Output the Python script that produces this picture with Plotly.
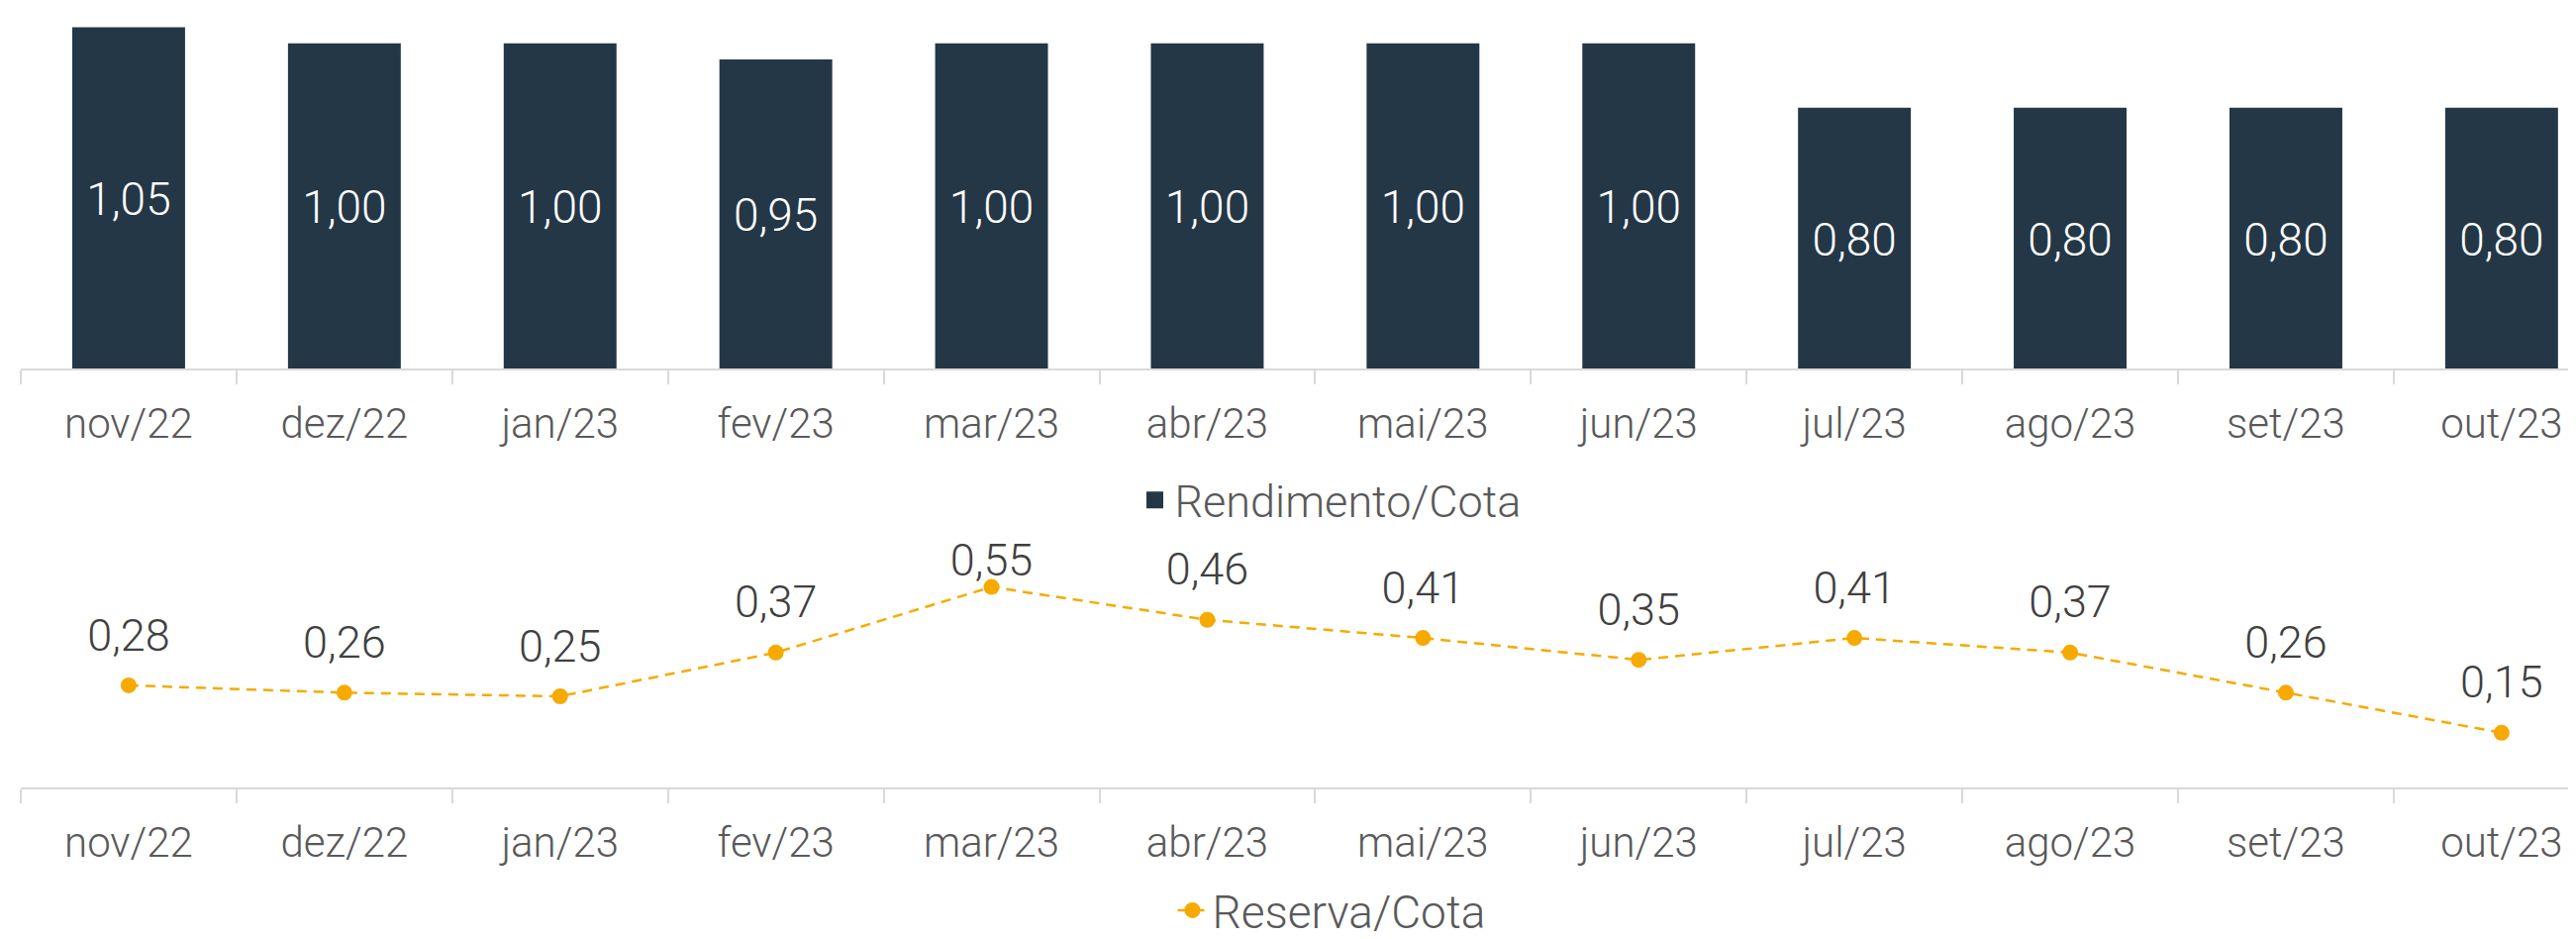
import plotly.graph_objects as go

# ---- data ----
months = ["nov/22", "dez/22", "jan/23", "fev/23", "mar/23", "abr/23",
          "mai/23", "jun/23", "jul/23", "ago/23", "set/23", "out/23"]
rendimento = [1.05, 1.00, 1.00, 0.95, 1.00, 1.00, 1.00, 1.00, 0.80, 0.80, 0.80, 0.80]
reserva = [0.28, 0.26, 0.25, 0.37, 0.55, 0.46, 0.41, 0.35, 0.41, 0.37, 0.26, 0.15]

# ---- style ----
# the page body has an 8px margin, so the figure is drawn 8px in from the window
OFF = 8
W, H = 2602 - OFF, 948 - OFF
L = 21 - OFF
PW = W - L
FONT = "Roboto Light, Roboto"
BAR_COLOR = "#243746"
LINE_COLOR = "#F6AA00"
AXIS_COLOR = "#D9D9D9"
TICK_COLOR = "#595959"
LABEL_COLOR = "#404040"

CAT_PX = 217.9
xr = [-0.5, -0.5 + PW / CAT_PX]

# label offsets (invisible marker sizes steer the label gap above points)
label_gap = [37, 37, 37, 37, 0, 37, 37, 37, 37, 37, 37, 37]


def py(y_window):
    """window pixel row -> paper fraction"""
    return 1 - (y_window - OFF) / H


def px(x_window):
    """window pixel column -> paper fraction"""
    return (x_window - OFF - L) / PW


fig = go.Figure()

fig.add_trace(go.Bar(
    x=months, y=rendimento, name="Rendimento/Cota",
    marker=dict(color=BAR_COLOR, line=dict(color=BAR_COLOR, width=5)),
    texttemplate="%{y:.2f}", textposition="inside", insidetextanchor="middle",
    textfont=dict(family=FONT, size=46, color="white", weight=300),
    xaxis="x", yaxis="y", legend="legend",
))

fig.add_trace(go.Scatter(
    x=months, y=reserva, name="Reserva/Cota", mode="lines+markers",
    line=dict(color=LINE_COLOR, width=2.5, dash="10px,7px"),
    marker=dict(color=LINE_COLOR, size=16),
    xaxis="x2", yaxis="y2", legend="legend2",
))

fig.add_trace(go.Scatter(
    x=months, y=reserva, mode="markers+text", showlegend=False,
    marker=dict(size=label_gap, opacity=0),
    texttemplate="%{y:.2f}", textposition="top center",
    textfont=dict(family=FONT, size=45, color=LABEL_COLOR, weight=300),
    hoverinfo="skip", cliponaxis=False, xaxis="x2", yaxis="y2",
))

xcommon = dict(
    type="category", range=xr, tickson="boundaries", ticks="outside",
    ticklen=14, tickwidth=2, tickcolor=AXIS_COLOR, showline=True,
    linecolor=AXIS_COLOR, linewidth=2, showgrid=False, zeroline=False,
    tickfont=dict(family=FONT, size=42, color=TICK_COLOR, weight=300),
    ticklabelstandoff=18,
)

top_axis = 372   # window px of the bar chart baseline
bar_px_per_unit = 325.8
bot_axis = 795   # window px of the line chart baseline
bot_top = 555
line_px_per_unit = 368.0

fig.update_layout(
    width=W, height=H,
    margin=dict(l=L, r=0, t=0, b=0, pad=0, autoexpand=False),
    paper_bgcolor="white", plot_bgcolor="white",
    separators=",.",
    bargap=0.5,
    font=dict(family=FONT, color=TICK_COLOR),
    xaxis=dict(anchor="y", domain=[0, 1], **xcommon),
    yaxis=dict(domain=[py(top_axis), 1],
               range=[0, (top_axis - OFF) / bar_px_per_unit], visible=False),
    xaxis2=dict(anchor="y2", domain=[0, 1], **xcommon),
    yaxis2=dict(domain=[py(bot_axis), py(bot_top)],
                range=[0, (bot_axis - bot_top) / line_px_per_unit], visible=False),
    legend=dict(orientation="h", x=px(1344), xanchor="center",
                y=py(505), yanchor="middle",
                font=dict(family=FONT, size=45, color=TICK_COLOR, weight=300),
                bgcolor="rgba(0,0,0,0)"),
    legend2=dict(orientation="h", x=px(1345), xanchor="center",
                 y=py(919), yanchor="middle",
                 font=dict(family=FONT, size=46, color=TICK_COLOR, weight=300),
                 bgcolor="rgba(0,0,0,0)"),
)

fig.write_html("out.html")
